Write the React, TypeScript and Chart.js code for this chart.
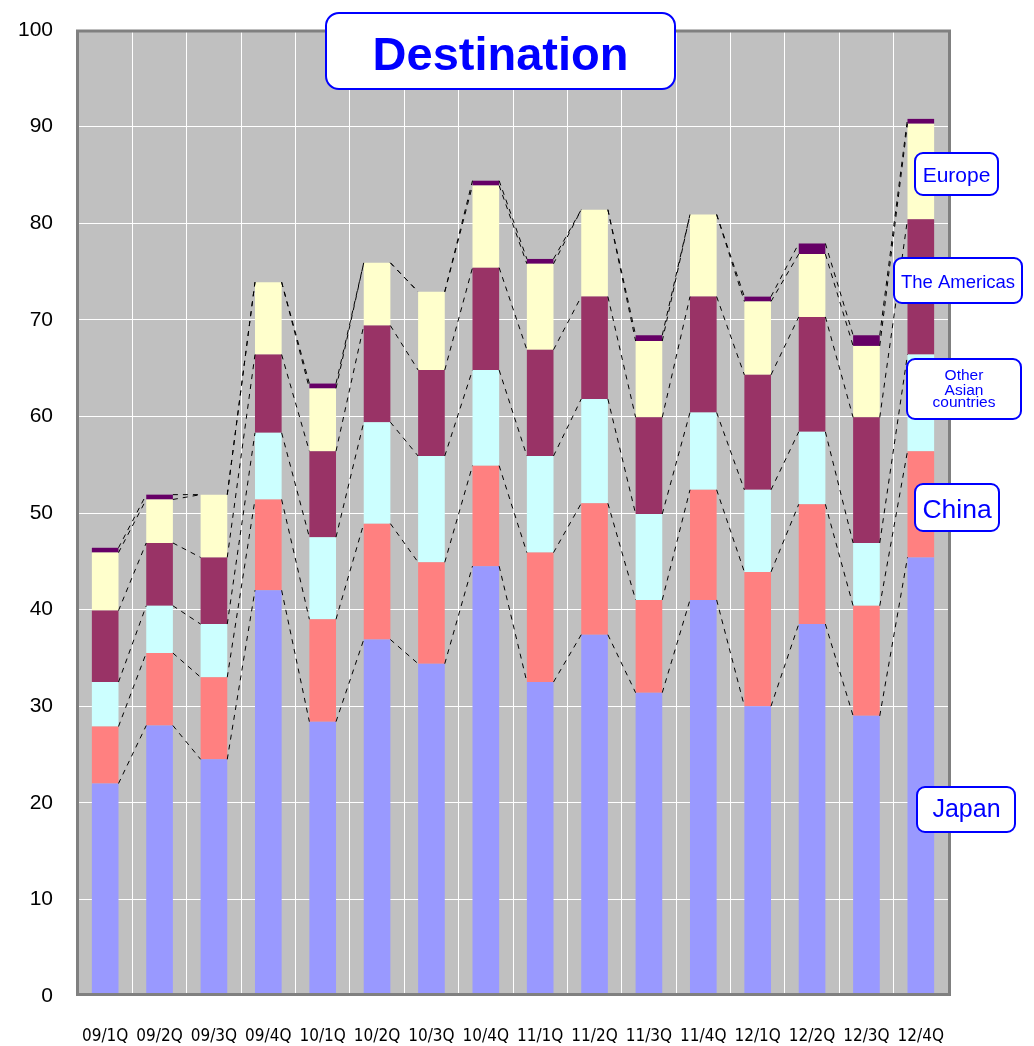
import React, { useEffect, useRef } from "react";
import { Chart, registerables } from "chart.js";

Chart.register(...registerables);

const categories = ["09/1Q", "09/2Q", "09/3Q", "09/4Q", "10/1Q", "10/2Q", "10/3Q", "10/4Q", "11/1Q", "11/2Q", "11/3Q", "11/4Q", "12/1Q", "12/2Q", "12/3Q", "12/4Q"];
const japan = [22.0, 28.0, 24.5, 42.0, 28.4, 36.9, 34.4, 44.5, 32.5, 37.4, 31.4, 41.0, 30.0, 38.5, 29.0, 45.4];
const china = [5.9, 7.5, 8.5, 9.4, 10.6, 12.0, 10.5, 10.4, 13.4, 13.6, 9.6, 11.4, 13.9, 12.4, 11.4, 11.0];
const otherAsia = [4.6, 4.9, 5.5, 6.9, 8.5, 10.5, 11.0, 9.9, 10.0, 10.8, 8.9, 8.0, 8.5, 7.5, 6.5, 10.0];
const americas = [7.4, 6.5, 6.9, 8.1, 8.9, 10.0, 8.9, 10.6, 11.0, 10.6, 10.0, 12.0, 11.9, 11.9, 13.0, 14.0];
const europe = [6.0, 4.5, 6.5, 7.5, 6.5, 6.5, 8.1, 8.5, 8.9, 9.0, 7.9, 8.5, 7.6, 6.5, 7.4, 9.9];
const others = [0.5, 0.5, 0, 0, 0.5, 0, 0, 0.5, 0.5, 0, 0.6, 0, 0.5, 1.1, 1.1, 0.5];

const seriesNames = ["Japan", "China", "Other Asian countries", "The Americas", "Europe", "Others"];
const seriesValues = [japan, china, otherAsia, americas, europe, others];
const seriesColors = ["#9999ff", "#ff8080", "#ccffff", "#993366", "#ffffcc", "#660066"];

const yTickStep = 10;
const yMax = 100;

const FONT = "'Liberation Sans', Arial, sans-serif";

function roundBox(ctx: CanvasRenderingContext2D, x: number, y: number, w: number, h: number, r: number) {
  ctx.save();
  ctx.beginPath();
  ctx.roundRect(x, y, w, h, r);
  ctx.fillStyle = "#ffffff";
  ctx.fill();
  ctx.lineWidth = 2;
  ctx.strokeStyle = "#0000ff";
  ctx.stroke();
  ctx.restore();
}

function label(ctx: CanvasRenderingContext2D, text: string, cx: number, baseline: number, font: string) {
  ctx.save();
  ctx.font = font;
  ctx.fillStyle = "#0000ff";
  ctx.textAlign = "center";
  ctx.textBaseline = "alphabetic";
  ctx.fillText(text, cx, baseline);
  ctx.restore();
}

const decorPlugin = {
  id: "decor",
  beforeDraw(chart: any) {
    const { ctx, chartArea } = chart;
    ctx.save();
    ctx.fillStyle = "#c0c0c0";
    ctx.fillRect(chartArea.left, chartArea.top, chartArea.right - chartArea.left, chartArea.bottom - chartArea.top);
    ctx.restore();
  },
  afterDatasetsDraw(chart: any) {
    const { ctx } = chart;
    ctx.save();
    ctx.strokeStyle = "#000000";
    ctx.lineWidth = 1;
    ctx.setLineDash([5, 5]);
    for (let d = 0; d < chart.data.datasets.length; d++) {
      const meta = chart.getDatasetMeta(d);
      for (let i = 0; i < meta.data.length - 1; i++) {
        const a = meta.data[i] as any;
        const b = meta.data[i + 1] as any;
        ctx.beginPath();
        ctx.moveTo(a.x + a.width / 2, a.y);
        ctx.lineTo(b.x - b.width / 2, b.y);
        ctx.stroke();
      }
    }
    ctx.restore();
    // plot border
    const ca = chart.chartArea;
    ctx.save();
    ctx.strokeStyle = "#808080";
    ctx.lineWidth = 3;
    ctx.strokeRect(ca.left - 0.5, ca.top + 1, ca.right - ca.left + 2, ca.bottom - ca.top - 2.5);
    ctx.restore();
  },
  afterDraw(chart: any) {
    const { ctx } = chart;
    roundBox(ctx, 326, 13, 349, 76, 13);
    label(ctx, "Destination", 500.5, 70, `bold 47px ${FONT}`);

    roundBox(ctx, 915, 153, 83, 42, 8);
    label(ctx, "Europe", 956.5, 182, `21px ${FONT}`);

    roundBox(ctx, 894, 258, 128, 45, 8);
    label(ctx, "The Americas", 958, 288, `18.5px ${FONT}`);

    roundBox(ctx, 907, 359, 114, 60, 8);
    label(ctx, "Other", 964, 380, `15.5px ${FONT}`);
    label(ctx, "Asian", 964, 394.5, `15.5px ${FONT}`);
    label(ctx, "countries", 964, 407, `15.5px ${FONT}`);

    roundBox(ctx, 915, 484, 84, 47, 8);
    label(ctx, "China", 957, 518, `26.5px ${FONT}`);

    roundBox(ctx, 917, 787, 98, 45, 8);
    label(ctx, "Japan", 966.5, 817, `25px ${FONT}`);
  },
};

export default function App() {
  const ref = useRef<HTMLCanvasElement>(null);
  useEffect(() => {
    const canvas = ref.current!;
    const chart = new Chart(canvas, {
      type: "bar",
      data: {
        labels: categories,
        datasets: seriesValues.map((vals, k) => ({
          label: seriesNames[k],
          data: vals,
          backgroundColor: seriesColors[k],
          borderWidth: 0,
          categoryPercentage: 1,
          barPercentage: 0.49,
        })),
      },
      options: {
        animation: false,
        responsive: false,
        events: [],
        layout: { padding: { top: 30, right: 86, bottom: 0, left: 0 } },
        plugins: {
          legend: { display: false },
          tooltip: { enabled: false },
          title: { display: false },
        },
        scales: {
          x: {
            stacked: true,
            grid: { color: "#ffffff", lineWidth: 1, drawTicks: false, offset: true },
            border: { display: false },
            ticks: {
              color: "#000000",
              padding: 30,
              font: { family: "'Liberation Sans Narrow', 'DejaVu Sans Condensed', sans-serif", size: 17 },
              maxRotation: 0,
              autoSkip: false,
            },
            afterFit: (scale: any) => {
              scale.height = 50;
              scale.paddingLeft = 0;
              scale.paddingRight = 0;
            },
          },
          y: {
            stacked: true,
            min: 0,
            max: yMax,
            grid: { color: "#ffffff", lineWidth: 1, drawTicks: false },
            border: { display: false },
            ticks: {
              stepSize: yTickStep,
              color: "#000000",
              padding: 25,
              font: { family: FONT, size: 21 },
            },
            afterFit: (scale: any) => {
              scale.width = 78;
              scale.paddingTop = 0;
              scale.paddingBottom = 0;
            },
          },
        },
      },
      plugins: [decorPlugin],
    } as any);
    return () => chart.destroy();
  }, []);
  return (
    <div style={{ position: "fixed", left: 0, top: 0, width: 1034, height: 1046, background: "#ffffff" }}>
      <canvas ref={ref} width={1034} height={1046} style={{ display: "block" }} />
    </div>
  );
}
